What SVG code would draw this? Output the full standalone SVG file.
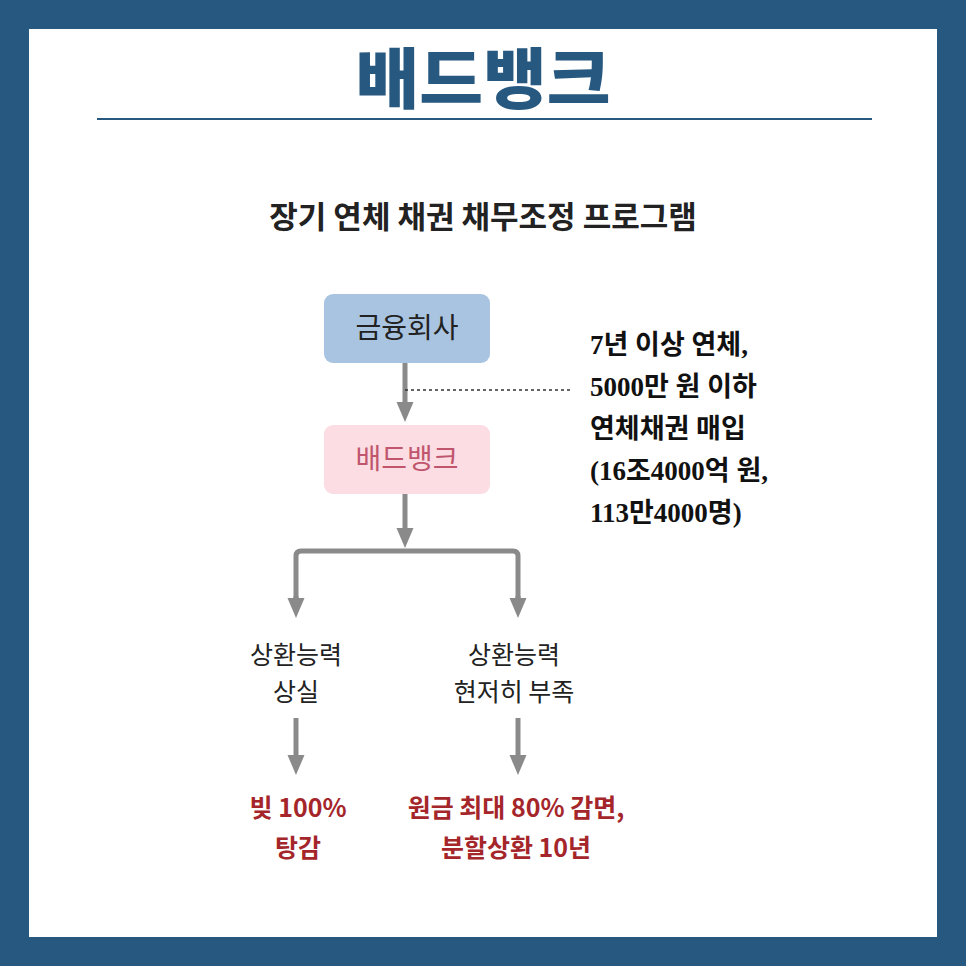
<svg xmlns="http://www.w3.org/2000/svg" width="966" height="966" viewBox="0 0 966 966">
<style>
.k{font-family:"Noto Sans CJK KR","Noto Sans",sans-serif}
.g{stroke:#8a8a8a;stroke-width:5;fill:none}
.lbl{font-size:25px;fill:#222;text-anchor:middle}
.red{font-size:25px;fill:#a5262a;text-anchor:middle;font-weight:bold}
.note{font-family:"Liberation Serif","Noto Sans CJK KR",serif;font-size:27px;fill:#111;font-weight:bold}
</style>
<defs><marker id="ah" markerWidth="4" markerHeight="4" refX="2" refY="2" orient="auto" markerUnits="strokeWidth"><path d="M0,0.3 L4,2 L0,3.7Z" fill="#8a8a8a"/></marker></defs>
<rect width="966" height="966" fill="#275880"/>
<rect x="29" y="29" width="908" height="908" fill="#fff"/>
<text class="k" x="483" y="103" text-anchor="middle" font-size="66" font-weight="900" fill="#275880" transform="translate(483 0) scale(1.05 1) translate(-483 0)">배드뱅크</text>
<line x1="97" y1="119" x2="872" y2="119" stroke="#275880" stroke-width="2"/>
<text class="k" x="483" y="228" text-anchor="middle" font-size="31" font-weight="bold" fill="#222">장기 연체 채권 채무조정 프로그램</text>
<g id="connectors">
<line x1="405" y1="363" x2="405" y2="412" class="g" marker-end="url(#ah)"/>
<line x1="405" y1="494" x2="405" y2="538" class="g" marker-end="url(#ah)"/>
<path d="M296,608 V556 Q296,551 301,551 H513 Q518,551 518,556 V608" class="g"/>
<line x1="296" y1="596" x2="296" y2="608" class="g" marker-end="url(#ah)"/>
<line x1="518" y1="596" x2="518" y2="608" class="g" marker-end="url(#ah)"/>
<line x1="296" y1="718" x2="296" y2="765" class="g" marker-end="url(#ah)"/>
<line x1="518" y1="718" x2="518" y2="765" class="g" marker-end="url(#ah)"/>
<line x1="405" y1="390" x2="572" y2="390" stroke="#333" stroke-width="1.5" stroke-dasharray="3,3"/>
</g>
<g id="n1"><rect x="324" y="294" width="166" height="69" rx="9" fill="#a9c4e0"/><text class="k" x="407" y="338" text-anchor="middle" font-size="28" fill="#222">금융회사</text></g>
<g id="n2"><rect x="324" y="425" width="166" height="69" rx="9" fill="#fbdde3"/><text class="k" x="407" y="469" text-anchor="middle" font-size="28" fill="#c0566d">배드뱅크</text></g>
<g id="note"><text class="note"><tspan x="590" y="354">7년 이상 연체,</tspan><tspan x="590" y="396">5000만 원 이하</tspan><tspan x="590" y="438">연체채권 매입</tspan><tspan x="590" y="480">(16조4000억 원,</tspan><tspan x="590" y="522">113만4000명)</tspan></text></g>
<g id="n3"><text class="k lbl"><tspan x="296" y="664">상환능력</tspan><tspan x="296" y="701">상실</tspan></text></g>
<g id="n4"><text class="k lbl"><tspan x="514" y="664">상환능력</tspan><tspan x="514" y="701">현저히 부족</tspan></text></g>
<g id="n5"><text class="k red"><tspan x="298" y="817">빚 100%</tspan><tspan x="298" y="857">탕감</tspan></text></g>
<g id="n6"><text class="k red"><tspan x="516" y="817">원금 최대 80% 감면,</tspan><tspan x="516" y="857">분할상환 10년</tspan></text></g>
</svg>
